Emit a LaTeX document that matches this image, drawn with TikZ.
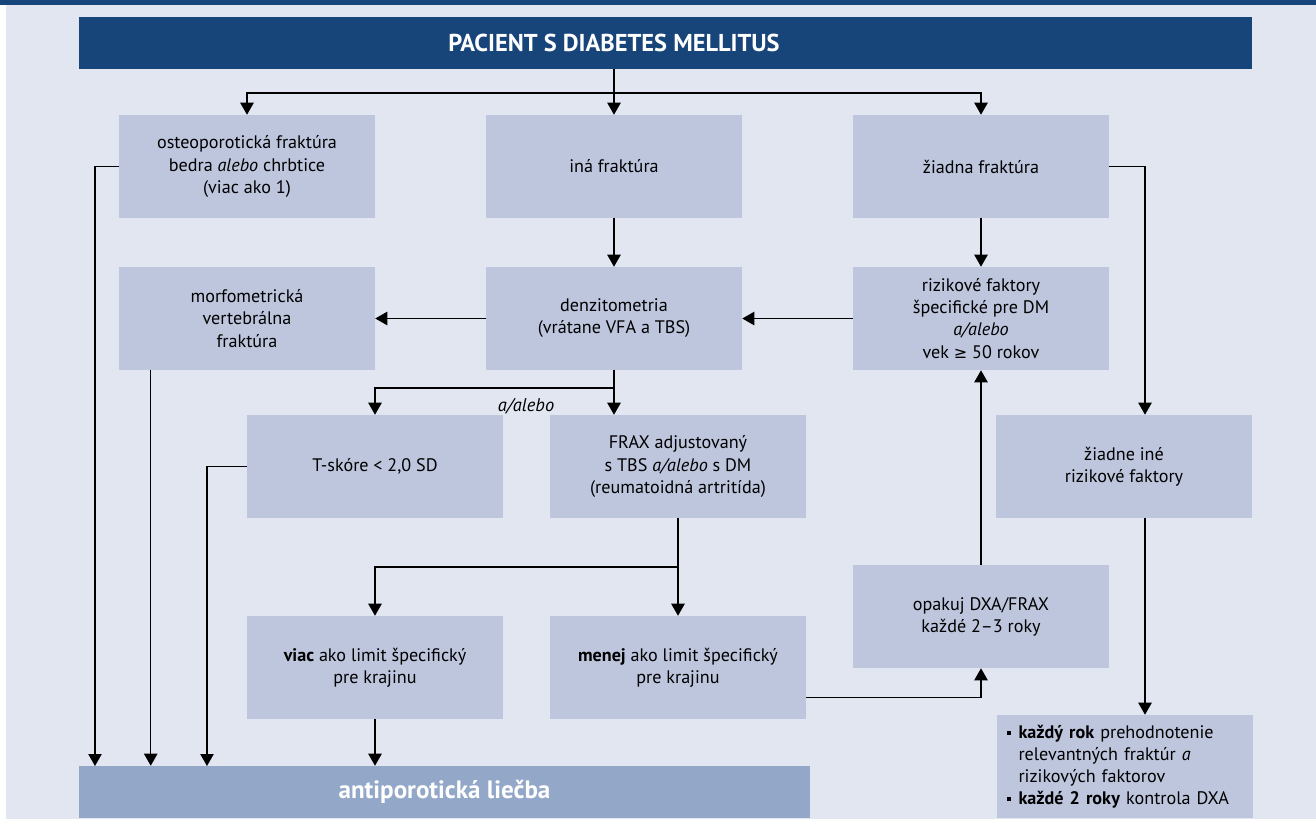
\documentclass[tikz,border=0pt]{standalone}
\usepackage{fontspec}
\setmainfont{PT Sans}
\newfontfamily\symf{DejaVu Sans}
\usetikzlibrary{arrows.meta}
\definecolor{dark}{HTML}{17457A}
\definecolor{bg}{HTML}{E1E6F0}
\definecolor{boxc}{HTML}{BEC6DE}
\definecolor{barc}{HTML}{93A7C8}
\newcommand{\bul}{\makebox[9pt][l]{\raisebox{2.5pt}{\rule{3pt}{3pt}}}}
\begin{document}
\begin{tikzpicture}[x=0.75pt,y=-0.75pt,
 box/.style={fill=boxc, minimum width=192pt, minimum height=77.25pt, inner sep=0pt, align=center, font=\fontsize{13.6}{16.6}\selectfont},
 arr/.style={line width=1pt, -{Triangle[width=10pt,length=9pt]}},
 ln/.style={line width=1pt}]
\useasboundingbox (0,0) rectangle (1316,824);
\fill[white] (0,0) rectangle (1316,824);
\fill[bg] (6,5) rectangle (1316,819);
\fill[dark] (0,0) rectangle (1316,5);
% title
\node[fill=dark, minimum width=879.75pt, minimum height=39pt, inner sep=0pt] (title) at (665.5,43) {};
\node[text=white, font=\fontsize{18.3}{22}\selectfont\bfseries, inner sep=0pt] (titletext) at (614,43) {PACIENT S DIABETES MELLITUS};
% row 1
\node[box] (osteo) at (247,166.5) {osteoporotická fraktúra\\ bedra \textit{alebo} chrbtice\\ (viac ako 1)};
\node[box] (ina) at (614,166.5) {iná fraktúra};
\node[box] (ziad) at (981,166.5) {žiadna fraktúra};
% row 2
\node[box] (morfo) at (247,318.5) {morfometrická\\ vertebrálna\\ fraktúra};
\node[box] (denz) at (614,318.5) {denzitometria\\ (vrátane VFA a TBS)};
\node[box] (riz) at (981,318.5) {rizikové faktory\\ špecifické pre DM\\ \textit{a/alebo}\\ vek {\symf\fontsize{12}{16.6}\selectfont ≥} 50 rokov};
% row 3
\node[box] (tsk) at (375,466.5) {T-skóre < 2,0 SD};
\node[box] (frax) at (678,466.5) {FRAX adjustovaný\\ s TBS \textit{a/alebo} s DM\\ (reumatoidná artritída)};
\node[box] (zine) at (1124,466.5) {žiadne iné\\ rizikové faktory};
% row 4
\node[box] (viac) at (375,667.5) {\textbf{viac} ako limit špecifický\\ pre krajinu};
\node[box] (menej) at (678,667.5) {\textbf{menej} ako limit špecifický\\ pre krajinu};
\node[box] (opak) at (981,616.5) {opakuj DXA/FRAX\\ každé 2–3 roky};
\node[box, align=left, text width=177pt] (kaz) at (1124.5,766.5) {\bul\textbf{každý rok} prehodnotenie\\ \hspace*{9pt}relevantných fraktúr \textit{a}\\ \hspace*{9pt}rizikových faktorov\\ \bul\textbf{každé 2 roky} kontrola DXA};
% bar
\node[fill=barc, minimum width=548.25pt, minimum height=39pt, inner sep=0pt, text=white, font=\fontsize{18.8}{22}\selectfont\bfseries] (bar) at (444.5,792) {antiporotická liečba};
% coordinates
\coordinate (split) at (614,93);
\coordinate (o1) at (95,766);
\coordinate (t1) at (207,766);
\coordinate (d1) at (614,388);
\coordinate (f1) at (678,567);
\coordinate (cx) at (1145,0);
% connectors
\draw[arr] (title.south -| ina.north) -- (ina.north);
\draw[arr] (split) -| (osteo.north);
\draw[arr] (split) -| (ziad.north);
\draw[arr] (osteo.west) -| (o1);
\draw[arr] ([xshift=24pt]morfo.south west) -- ([xshift=24pt]morfo.south west |- bar.north);
\draw[arr] (tsk.west) -| (t1);
\draw[arr] (viac.south) -- (viac.south |- bar.north);
\draw[arr] (ina.south) -- (denz.north);
\draw[arr] (ziad.south) -- (riz.north);
\draw[arr] (denz.west) -- (morfo.east);
\draw[arr] (riz.west) -- (denz.east);
\draw[arr] (ziad.east) -| (cx |- zine.north);
\draw[arr] (cx |- zine.south) -- (cx |- kaz.north);
\draw[arr] (denz.south) -- (denz.south |- frax.north);
\draw[arr] (d1) -| (tsk.north);
\node[font=\fontsize{13.8}{16.6}\selectfont\itshape, inner sep=0pt] (alabel) at (526,406) {a/alebo};
\draw[arr] (frax.south) -- (menej.north);
\draw[arr] (f1) -| (viac.north);
\draw[arr] ([yshift=-22.5pt]menej.east) -| (opak.south);
\draw[arr] (opak.north) -- (riz.south);
\end{tikzpicture}
\end{document}
